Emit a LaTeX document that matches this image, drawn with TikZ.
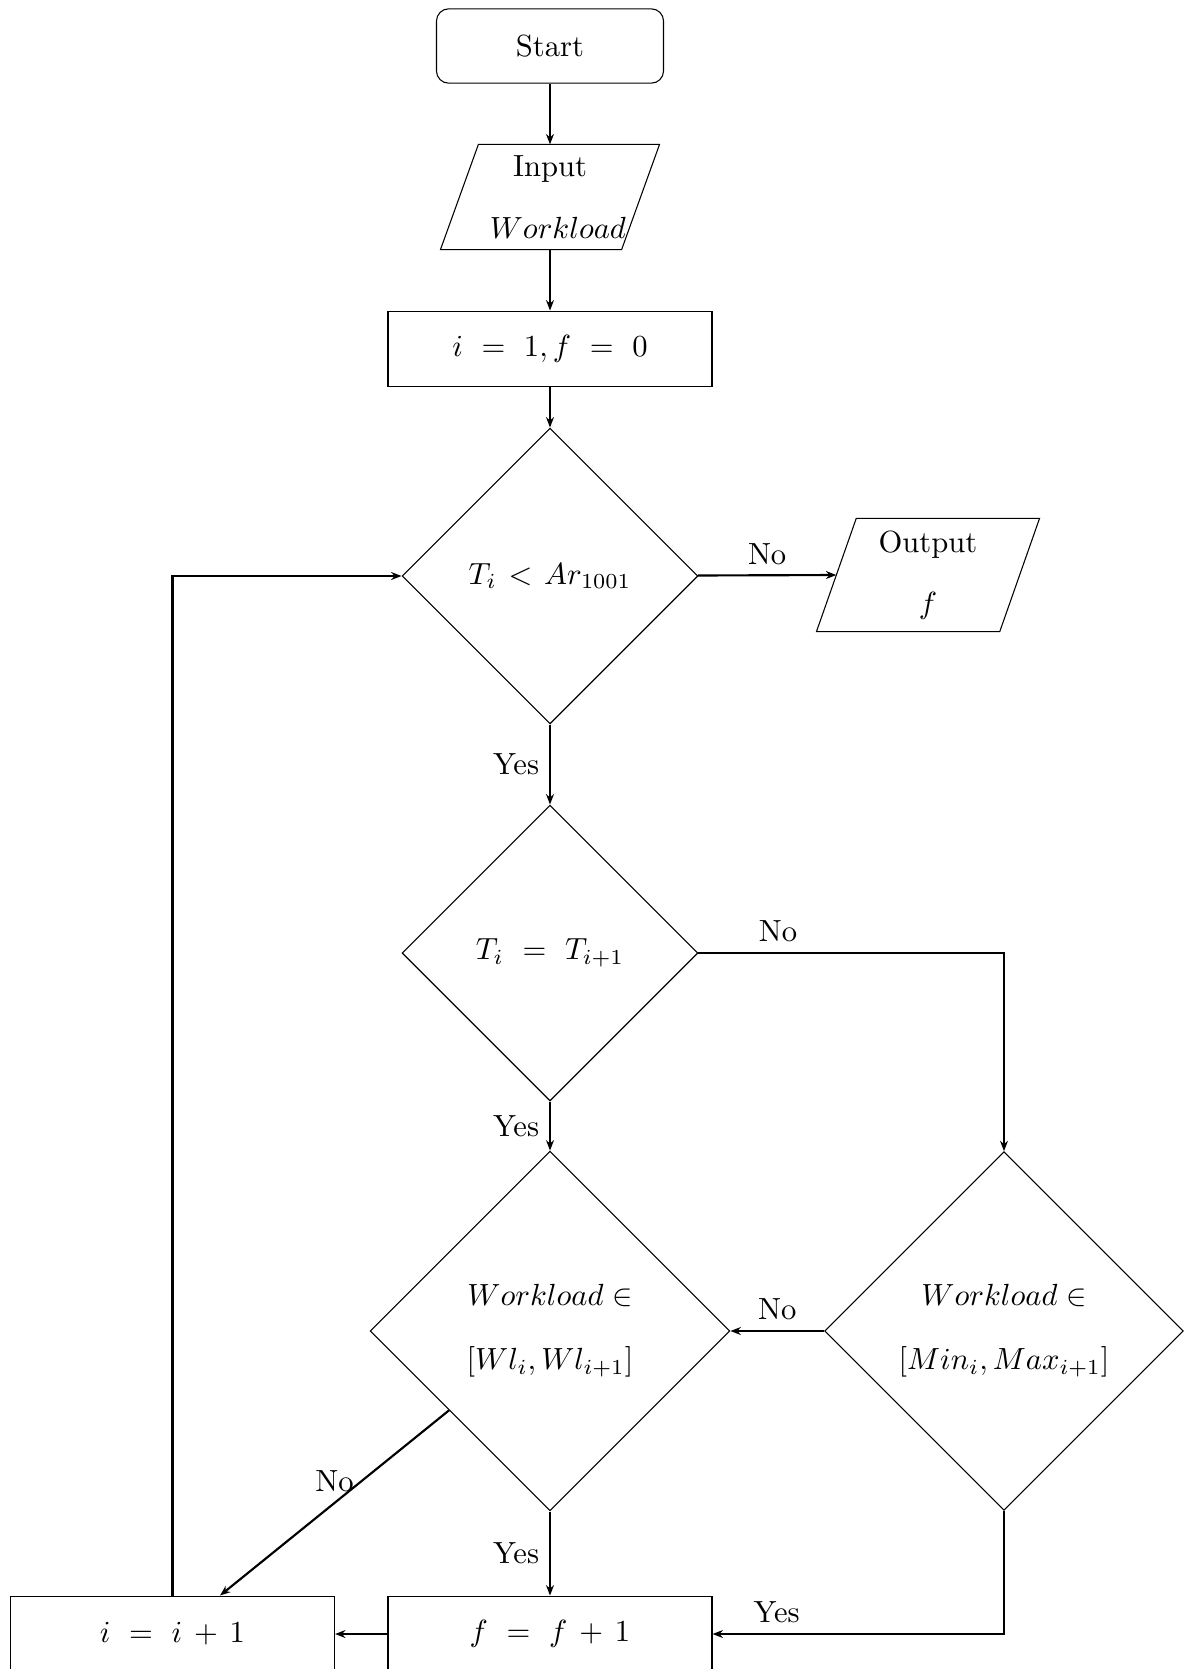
\documentclass[tikz,border=0pt]{standalone}
\usetikzlibrary{shapes.geometric,arrows.meta,calc}
\begin{document}
\begin{tikzpicture}[x=0.3268pt,y=-0.3268pt,
  shp/.style={draw,line width=0.35pt},
  boxs/.style={shp,rectangle,minimum width=105.9pt,minimum height=24.8pt,inner sep=0pt},
  dia/.style={shp,diamond,aspect=1,inner sep=0pt,align=center},
  para/.style={rectangle,inner sep=0pt,align=center},
  arr/.style={line width=0.7pt,-{Stealth[length=3.4pt,width=2.6pt]}},
  lbl/.style={inner sep=3.2pt,font=\normalsize}]
\useasboundingbox (0,0) rectangle (1195,1669);
% nodes
\node[shp,rectangle,rounded corners=4pt,minimum width=74.2pt,minimum height=24.3pt] (start) at (550,46) {Start};
\node[para,minimum width=58.8pt,minimum height=34pt] (in) at (550,197) {Input\\[8pt]\hspace*{5.2pt}$Workload$};
\draw[shp] ([xshift=6.2pt]in.north west) -- ([xshift=6.2pt]in.north east) -- ([xshift=-6.2pt]in.south east) -- ([xshift=-6.2pt]in.south west) -- cycle;
\node[boxs] (init) at (550,349) {$i\ =\ 1, f\ =\ 0$};
\node[dia,minimum width=96.7pt,minimum height=96.7pt] (d1) at (550,576) {$T_i\mkern2mu < \mkern2mu Ar_{1001}$};
\node[para,minimum width=59.5pt,minimum height=36.6pt] (out) at (928,575) {Output\\[8pt]$f$};
\draw[shp] ([xshift=6.5pt]out.north west) -- ([xshift=6.5pt]out.north east) -- ([xshift=-6.5pt]out.south east) -- ([xshift=-6.5pt]out.south west) -- cycle;
\node[dia,minimum width=96.7pt,minimum height=96.7pt] (d2) at (550,953) {$T_i\ =\ T_{i+1}$};
\node[dia,minimum width=117.6pt,minimum height=117.6pt] (d3) at (550,1331) {$Workload\in$\\[9pt]$[Wl_i, Wl_{i+1}]$};
\node[dia,minimum width=117.2pt,minimum height=117.2pt] (d4) at (1004,1331) {$Workload\in$\\[9pt]$[Min_i, Max_{i+1}]$};
\node[boxs] (fb) at (550,1634) {$f\ =\ f\,+\,1$};
\node[boxs] (ib) at (172.5,1634) {$i\ =\ i\,+\,1$};
\coordinate (d3no) at ($(d3.west)!0.44!(d3.south)$);
% connectors
\draw[arr] (start) -- (in);
\draw[arr] (in) -- (init);
\draw[arr] (init) -- (d1);
\draw[arr] (d1) -- node[lbl,above] {No} (out.west);
\draw[arr] (d1) -- node[lbl,left] {Yes} (d2);
\draw[arr] (d2) -- node[lbl,left] {Yes} (d3);
\draw[arr] (d2.east) -| node[lbl,pos=0.13,above] {No} (d4.north);
\draw[arr] (d4.west) -- node[lbl,above] {No} (d3.east);
\draw[arr] (d3) -- node[lbl,left] {Yes} (fb);
\draw[arr] (d4.south) |- node[lbl,pos=0.89,above] {Yes} (fb.east);
\draw[arr] (d3no) -- node[lbl,midway,above] {No} (ib);
\draw[arr] (fb.west) -- (ib.east);
\draw[arr] (ib.north) |- (d1.west);
\end{tikzpicture}
\end{document}
